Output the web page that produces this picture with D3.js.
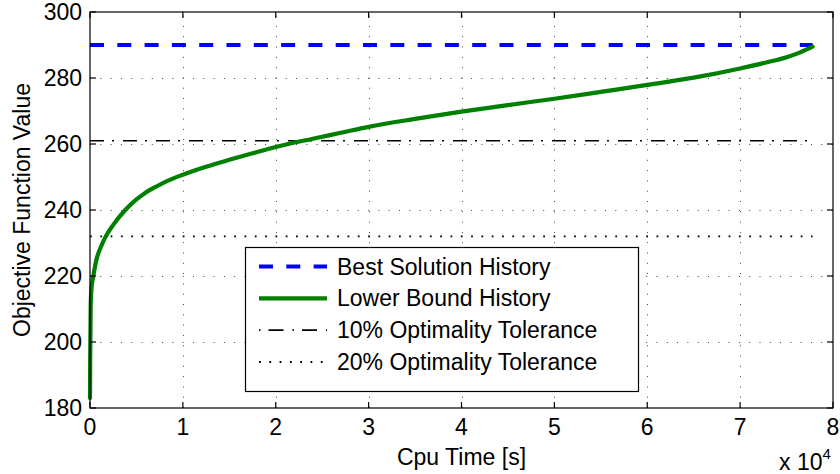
<!DOCTYPE html>
<html>
<head>
<meta charset="utf-8">
<script src="https://cdn.jsdelivr.net/npm/d3@7"></script>
<style>
  body { margin: 0; background: #fff; }
  svg { display: block; font-family: "Liberation Sans", Arial, sans-serif; }
</style>
</head>
<body>
<div id="chart"></div>
<script>
// cpu time in seconds, objective function value
const cpuTime = [0, 20, 50, 80, 180, 360, 700, 1200, 1700, 2500, 3800, 5000, 5900, 7200, 8400,
  10000, 12500, 15000, 17500, 20000, 24000, 27000, 30000, 35000, 40000, 45000, 50000,
  55000, 60000, 65000, 70000, 72800, 75000, 76400, 77800];
const lowerBound = [183, 195, 203, 212, 216.8, 220, 225, 229, 232, 235.5, 240, 243.2, 245.1, 247.2, 248.9,
  250.7, 253.1, 255.2, 257.2, 259.1, 261.6, 263.4, 265.2, 267.6, 269.8, 271.8, 273.7,
  275.8, 277.9, 280.1, 282.9, 284.7, 286.3, 287.7, 289.5];
const bestSolution = 290;
const tol10 = 261;
const tol20 = 232;
const xTicks = [0, 1, 2, 3, 4, 5, 6, 7, 8];
const yTicks = [180, 200, 220, 240, 260, 280, 300];
const legendLabels = ["Best Solution History", "Lower Bound History", "10% Optimality Tolerance", "20% Optimality Tolerance"];

const W = 840, H = 474;
const margin = { top: 12, right: 7, bottom: 66, left: 90 };
const fs = "23px";

const svg = d3.select("#chart").append("svg")
  .attr("width", W)
  .attr("height", H);

const x = d3.scaleLinear().domain([0, 80000]).range([margin.left, W - margin.right]);
const y = d3.scaleLinear().domain([180, 300]).range([H - margin.bottom, margin.top]);

const x0 = x.range()[0], x1 = x.range()[1];
const y0 = y.range()[0], y1 = y.range()[1];
const tickLen = 6;

// grid
const grid = svg.append("g").attr("stroke", "#444").attr("stroke-width", 1).attr("stroke-dasharray", "1,9.3");
grid.selectAll(".gx").data(xTicks.slice(1, -1)).enter().append("line")
  .attr("x1", d => Math.round(x(d * 1e4)) + 0.5).attr("x2", d => Math.round(x(d * 1e4)) + 0.5)
  .attr("y1", y0).attr("y2", y1);
grid.selectAll(".gy").data(yTicks.slice(1, -1)).enter().append("line")
  .attr("y1", d => Math.round(y(d)) + 0.5).attr("y2", d => Math.round(y(d)) + 0.5)
  .attr("x1", x0).attr("x2", x1);

// series
const tEnd = cpuTime[cpuTime.length - 1];

svg.append("line")
  .attr("x1", x(0)).attr("x2", x(tEnd))
  .attr("y1", y(tol20)).attr("y2", y(tol20))
  .attr("stroke", "#000").attr("stroke-width", 1.8)
  .attr("stroke-dasharray", "1.8,8.5");

svg.append("line")
  .attr("x1", x(0)).attr("x2", x(tEnd))
  .attr("y1", y(tol10)).attr("y2", y(tol10))
  .attr("stroke", "#000").attr("stroke-width", 1.6)
  .attr("stroke-dasharray", "14,8,2,9");

svg.append("line")
  .attr("x1", x(0)).attr("x2", x(tEnd))
  .attr("y1", y(bestSolution)).attr("y2", y(bestSolution))
  .attr("stroke", "#0000ff").attr("stroke-width", 4)
  .attr("stroke-dasharray", "14,13.3");

const line = d3.line()
  .x((d, i) => x(cpuTime[i]))
  .y(d => y(d))
  .curve(d3.curveMonotoneX);

svg.append("path")
  .datum(lowerBound)
  .attr("d", line)
  .attr("fill", "none")
  .attr("stroke", "#008000")
  .attr("stroke-width", 4.2)
  .attr("stroke-linejoin", "round")
  .attr("stroke-linecap", "round");

// box and ticks
svg.append("rect")
  .attr("x", x0).attr("y", y1)
  .attr("width", x1 - x0).attr("height", y0 - y1)
  .attr("fill", "none").attr("stroke", "#000").attr("stroke-width", 1.2);

const ticks = svg.append("g").attr("stroke", "#000").attr("stroke-width", 1.2);
xTicks.forEach(t => {
  const px = x(t * 1e4);
  ticks.append("line").attr("x1", px).attr("x2", px).attr("y1", y0).attr("y2", y0 - tickLen);
  ticks.append("line").attr("x1", px).attr("x2", px).attr("y1", y1).attr("y2", y1 + tickLen);
});
yTicks.forEach(t => {
  const py = y(t);
  ticks.append("line").attr("x1", x0).attr("x2", x0 + tickLen).attr("y1", py).attr("y2", py);
  ticks.append("line").attr("x1", x1).attr("x2", x1 - tickLen).attr("y1", py).attr("y2", py);
});

// tick labels
svg.selectAll(".xl").data(xTicks).enter().append("text")
  .attr("x", d => x(d * 1e4))
  .attr("y", y0 + 27)
  .attr("text-anchor", "middle")
  .style("font-size", fs)
  .text(d => d);

svg.selectAll(".yl").data(yTicks).enter().append("text")
  .attr("x", x0 - 8)
  .attr("y", d => y(d))
  .attr("dy", "0.35em")
  .attr("text-anchor", "end")
  .style("font-size", fs)
  .text(d => d);

// exponent
const expo = svg.append("text")
  .attr("x", 779)
  .attr("y", 470)
  .style("font-size", fs);
expo.append("tspan").text("x 10");
expo.append("tspan").attr("dy", -11).style("font-size", "15px").text("4");

// axis titles
svg.append("text")
  .attr("x", (x0 + x1) / 2)
  .attr("y", 465)
  .attr("text-anchor", "middle")
  .style("font-size", fs)
  .text("Cpu Time [s]");

svg.append("text")
  .attr("transform", `translate(30, ${(y0 + y1) / 2}) rotate(-90)`)
  .attr("text-anchor", "middle")
  .style("font-size", fs)
  .text("Objective Function Value");

// legend
const lg = svg.append("g");
lg.append("rect")
  .attr("x", 245.5).attr("y", 247.5)
  .attr("width", 393).attr("height", 144)
  .attr("fill", "#fff").attr("stroke", "#000").attr("stroke-width", 1.2);

const rowY = d3.scaleLinear().domain([0, 3]).range([266.5, 362]);
const sx0 = 259, sx1 = 327;
const styles = [
  { stroke: "#0000ff", w: 4, dash: "14,13.3" },
  { stroke: "#008000", w: 4.2, dash: null },
  { stroke: "#000", w: 1.6, dash: "1.5,8,15,9" },
  { stroke: "#000", w: 1.8, dash: "1.8,8.5" }
];
legendLabels.forEach((lab, i) => {
  const s = styles[i];
  lg.append("line")
    .attr("x1", sx0).attr("x2", sx1)
    .attr("y1", rowY(i)).attr("y2", rowY(i))
    .attr("stroke", s.stroke).attr("stroke-width", s.w)
    .attr("stroke-dasharray", s.dash);
  lg.append("text")
    .attr("x", 337)
    .attr("y", rowY(i))
    .attr("dy", "0.35em")
    .style("font-size", fs)
    .text(lab);
});
</script>
</body>
</html>
